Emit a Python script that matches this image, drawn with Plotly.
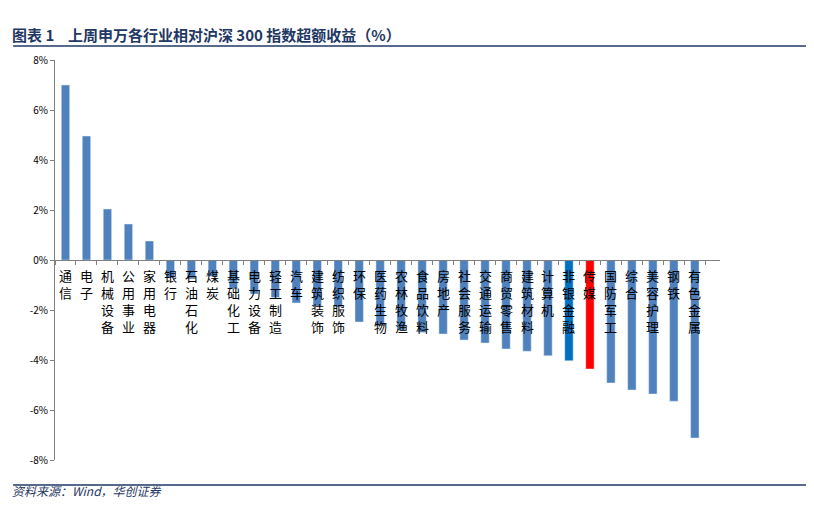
import plotly.graph_objects as go

## 申万行业 vs 沪深300 超额收益（%）
industries = ["通信", "电子", "机械设备", "公用事业", "家用电器", "银行", "石油石化", "煤炭",
              "基础化工", "电力设备", "轻工制造", "汽车", "建筑装饰", "纺织服饰", "环保",
              "医药生物", "农林牧渔", "食品饮料", "房地产", "社会服务", "交通运输", "商贸零售",
              "建筑材料", "计算机", "非银金融", "传媒", "国防军工", "综合", "美容护理",
              "钢铁", "有色金属"]
excess = [7.00, 4.96, 2.04, 1.44, 0.76, -0.72, -0.76, -0.66,
          -1.16, -1.36, -1.50, -1.72, -1.85, -1.88, -2.48,
          -2.64, -2.80, -2.90, -2.96, -3.20, -3.32, -3.56,
          -3.65, -3.83, -4.03, -4.36, -4.92, -5.20, -5.36,
          -5.65, -7.12]
y_ticks = [-8, -6, -4, -2, 0, 2, 4, 6, 8]

colors = []
for name in industries:
    if name == "传媒":
        colors.append("#FF0000")
    elif name == "非银金融":
        colors.append("#0070C0")
    else:
        colors.append("#4F81BD")

fig = go.Figure(go.Bar(x=industries, y=excess, marker_color=colors, width=0.4))

# vertical category labels just under the zero line
for name in industries:
    fig.add_annotation(x=name, y=0, yref="y", text="<br>".join(name), showarrow=False,
                       yanchor="top", yshift=-4, font=dict(size=13, color="black",
                       family="Noto Sans CJK SC"))

fig.add_annotation(text="<b>图表 1    上周申万各行业相对沪深 300 指数超额收益（%）</b>",
                   xref="paper", yref="paper", x=-0.068, y=1.095, xanchor="left",
                   showarrow=False, font=dict(size=15, color="#1F3864"))
fig.add_annotation(text="<i>资料来源：Wind，华创证券</i>", xref="paper", yref="paper",
                   x=-0.068, y=-0.1025, xanchor="left", showarrow=False,
                   font=dict(size=12, color="#1F3864"))
fig.add_shape(type="line", xref="paper", yref="paper", x0=-0.063, x1=1.144, y0=1.035, y1=1.035,
              line=dict(color="#1F3864", width=1.5))
fig.add_shape(type="line", xref="paper", yref="paper", x0=-0.063, x1=1.144, y0=-0.0625, y1=-0.0625,
              line=dict(color="#1F3864", width=1.5))

fig.update_xaxes(showticklabels=False, showline=True, linecolor="#808080", anchor="free",
                 position=0.5, ticks="outside", ticklen=4, tickcolor="#808080",
                 tickson="boundaries", range=[-0.5, len(industries) + 0.2])
fig.update_yaxes(range=[-8, 8], tickvals=y_ticks, ticktext=[f"{v}%" for v in y_ticks],
                 showline=True, linecolor="#808080", showgrid=False, zeroline=False,
                 ticks="outside", ticklen=4, tickcolor="#808080", tickfont=dict(size=10))
fig.update_layout(width=814, height=508, plot_bgcolor="white", paper_bgcolor="white",
                  showlegend=False, margin=dict(l=47, r=102, t=52, b=56),
                  font=dict(family="Noto Sans CJK SC", color="black"))
fig.write_html("out.html")
